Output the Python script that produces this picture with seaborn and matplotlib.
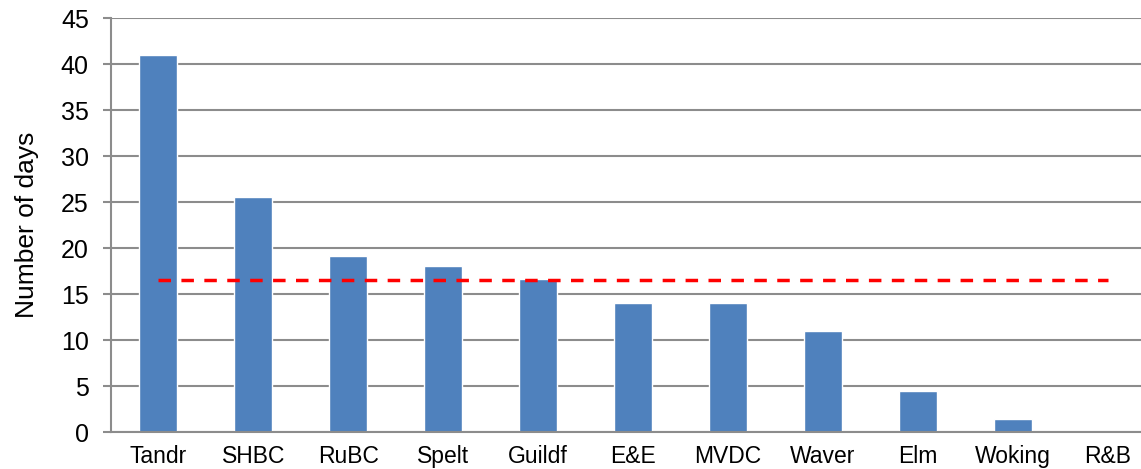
import matplotlib
matplotlib.use("Agg")
import matplotlib.pyplot as plt
import seaborn as sns

# data
councils = ["Tandr", "SHBC", "RuBC", "Spelt", "Guildf", "E&E", "MVDC",
            "Waver", "Elm", "Woking", "R&B"]
days = [41, 25.5, 19.1, 18, 16.6, 14, 14, 11, 4.5, 1.4, 0]
average = 16.5

sns.set_style("white")
plt.rcParams["font.family"] = ["Liberation Sans", "DejaVu Sans"]
plt.rcParams["text.color"] = "black"
plt.rcParams["axes.labelcolor"] = "black"
plt.rcParams["xtick.labelcolor"] = "black"
plt.rcParams["ytick.labelcolor"] = "black"

W, H = 1141, 469
fig = plt.figure(figsize=(W / 100, H / 100), dpi=100)
ax = fig.add_axes([111 / W, 37 / H, 1044 / W, 414 / H])

grid_col = "#8c8c8c"
ax.set_axisbelow(True)
ax.yaxis.grid(True, color=grid_col, linewidth=1.5)

sns.barplot(x=councils, y=days, color="#4F81BD", width=0.4, saturation=1, ax=ax)

# average line
ax.plot([0, len(councils) - 1], [average, average], color="#FF0000",
        linestyle=(0, (3.6, 3.0)), linewidth=2.5, zorder=5)

ax.set_xlim(-0.5, len(councils) - 0.5)
ax.set_ylim(0, 45)
ax.set_yticks(range(0, 46, 5))
ax.set_yticklabels([str(v) for v in range(0, 46, 5)], fontsize=18)

ax.set_xticks(range(len(councils)))
ax.set_xticklabels(councils, fontsize=16.5)
ax.set_xticks([i - 0.5 for i in range(len(councils) + 1)], minor=True)
ax.tick_params(axis="x", which="major", length=0, pad=9, labelcolor="black")
ax.tick_params(axis="x", which="minor", length=6, width=1.5, color=grid_col, direction="out")
ax.tick_params(axis="y", length=6, width=1.5, color=grid_col, direction="out", pad=10,
               left=True, labelcolor="black")

ax.set_ylabel("Number of days", fontsize=19, labelpad=16, color="black")
ax.set_xlabel("")

for side in ["top", "right"]:
    ax.spines[side].set_visible(False)
for side in ["left", "bottom"]:
    ax.spines[side].set_color(grid_col)
    ax.spines[side].set_linewidth(1.5)

fig.savefig("out.png", dpi=100)
